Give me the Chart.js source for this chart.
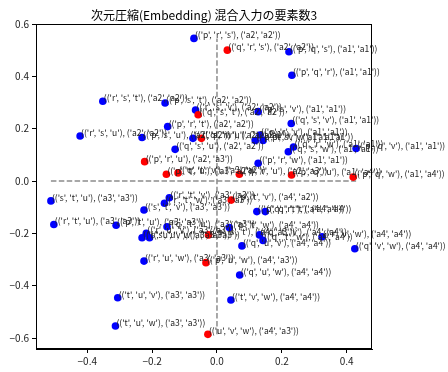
<!DOCTYPE html>
<html>
<head>
<meta charset="utf-8">
<script src="https://cdn.jsdelivr.net/npm/chart.js@4.4.0/dist/chart.umd.min.js"></script>
<style>
html, body { margin: 0; padding: 0; background: #fff; }
</style>
</head>
<body>
<canvas id="embedChart" width="448" height="372"></canvas>
<script>
// data
const blueX = [-0.071, 0.222, 0.231, -0.352, -0.160, -0.066, 0.127, 0.229, -0.152, -0.422,
    -0.231, -0.074, -0.129, 0.118, 0.133, 0.142, 0.236, 0.220, 0.429, 0.127,
    -0.512, -0.147, -0.162, -0.225, -0.503, -0.311, -0.154, 0.038, -0.218, -0.231,
    -0.208, -0.225, 0.123, 0.149, 0.131, 0.142, 0.077, 0.324, 0.425, 0.070,
    -0.306, -0.313, 0.043];
const blueY = [0.545, 0.494, 0.404, 0.305, 0.298, 0.271, 0.265, 0.220, 0.208, 0.172,
    0.166, 0.163, 0.121, 0.155, 0.176, 0.155, 0.130, 0.112, 0.124, 0.068,
    -0.076, -0.064, -0.085, -0.111, -0.166, -0.169, -0.175, -0.178, -0.200, -0.217,
    -0.217, -0.306, -0.117, -0.117, -0.206, -0.227, -0.248, -0.213, -0.259, -0.359,
    -0.446, -0.554, -0.455];
const blueLabels = [
    "(('p', 'r', 's'), ('a2', 'a2'))", "(('p', 'q', 's'), ('a1', 'a1'))", "(('p', 'q', 'r'), ('a1', 'a1'))",
    "(('r', 's', 't'), ('a2', 'a2'))", "(('p', 's', 't'), ('a2', 'a2'))", "(('r', 's', 'v'), ('a2', 'a2'))",
    "(('p', 's', 'v'), ('a1', 'a1'))", "(('q', 's', 'v'), ('a1', 'a1'))", "(('p', 'r', 't'), ('a2', 'a2'))",
    "(('r', 's', 'u'), ('a2', 'a2'))", "(('p', 's', 'u'), ('a2', 'a2'))", "(('r', 's', 'w'), ('a2', 'a2'))",
    "(('q', 's', 'u'), ('a2', 'a2'))", "(('p', 'r', 'v'), ('a1', 'a1'))", "(('q', 'r', 'v'), ('a1', 'a1'))",
    "(('p', 's', 'w'), ('a1', 'a1'))", "(('q', 'r', 'w'), ('a1', 'a1'))", "(('q', 's', 'w'), ('a1', 'a1'))",
    "(('p', 'q', 'v'), ('a1', 'a1'))", "(('p', 'r', 'w'), ('a1', 'a1'))", "(('s', 't', 'u'), ('a3', 'a3'))",
    "(('r', 't', 'v'), ('a3', 'a3'))", "(('r', 't', 'w'), ('a3', 'a3'))", "(('s', 't', 'v'), ('a3', 'a3'))",
    "(('r', 't', 'u'), ('a3', 'a3'))", "(('p', 't', 'u'), ('a3', 'a3'))", "(('q', 't', 'u'), ('a3', 'a3'))",
    "(('p', 't', 'w'), ('a4', 'a4'))", "(('r', 'u', 'v'), ('a3', 'a3'))", "(('s', 'u', 'v'), ('a3', 'a3'))",
    "(('s', 'u', 'w'), ('a3', 'a3'))", "(('r', 'u', 'w'), ('a3', 'a3'))", "(('p', 'q', 't'), ('a4', 'a4'))",
    "(('q', 'r', 't'), ('a4', 'a4'))", "(('q', 't', 'v'), ('a4', 'a4'))", "(('q', 't', 'w'), ('a4', 'a4'))",
    "(('q', 'u', 'v'), ('a4', 'a4'))", "(('r', 'v', 'w'), ('a4', 'a4'))", "(('q', 'v', 'w'), ('a4', 'a4'))",
    "(('q', 'u', 'w'), ('a4', 'a4'))", "(('t', 'u', 'v'), ('a3', 'a3'))", "(('t', 'u', 'w'), ('a3', 'a3'))",
    "(('t', 'v', 'w'), ('a4', 'a4'))"
];
const redX = [0.032, -0.058, -0.048, -0.223, -0.156, -0.120, 0.069, 0.230, 0.420, 0.044,
    -0.026, -0.034, -0.028];
const redY = [0.500, 0.253, 0.163, 0.074, 0.026, 0.031, 0.026, 0.023, 0.015, -0.073,
    -0.206, -0.312, -0.586];
const redLabels = [
    "(('q', 'r', 's'), ('a2', 'a2'))", "(('q', 's', 't'), ('a2', 'a2'))", "(('q', 'r', 'u'), ('a2', 'a1'))",
    "(('p', 'r', 'u'), ('a2', 'a3'))", "(('p', 't', 'u'), ('a3', 'a2'))", "(('q', 't', 'v'), ('a3', 'a2'))",
    "(('q', 'r', 'u'), ('a2', 'a3'))", "(('p', 'q', 'u'), ('a1', 'a4'))", "(('p', 'q', 'w'), ('a1', 'a4'))",
    "(('p', 't', 'v'), ('a4', 'a2'))", "(('p', 's', 't'), ('a4', 'a3'))", "(('p', 'u', 'w'), ('a4', 'a3'))",
    "(('u', 'v', 'w'), ('a4', 'a3'))"
];
const xTicks = [-0.4, -0.2, 0.0, 0.2, 0.4];
const yTicks = [-0.6, -0.4, -0.2, 0.0, 0.2, 0.4, 0.6];
const titleText = '次元圧縮(Embedding) 混合入力の要素数3';

const font = "'Noto Sans CJK JP', 'DejaVu Sans', sans-serif";

function toPoints(xs, ys) {
    return xs.map((x, i) => ({ x: x, y: ys[i] }));
}

//reference lines through the origin, spanning the data range
const allX = blueX.concat(redX);
const allY = blueY.concat(redY);
const hLine = [{ x: Math.min(...allX), y: 0 }, { x: Math.max(...allX), y: 0 }];
const vLine = [{ x: 0, y: Math.min(...allY) }, { x: 0, y: Math.max(...allY) }];

function fmt(v) {
    return v.toFixed(1).replace('-', '\u2212');
}

//text next to each point, full frame and title centred over the plot
const pointText = {
    id: 'pointText',
    afterDatasetsDraw(chart) {
        const ctx = chart.ctx;
        const xs = chart.scales.x, ys = chart.scales.y;
        ctx.save();
        ctx.font = "8.5px " + font;
        ctx.fillStyle = '#222';
        ctx.textAlign = 'left';
        ctx.textBaseline = 'alphabetic';
        chart.data.datasets.forEach(ds => {
            if (!ds.labels) return;
            ds.data.forEach((p, i) => {
                ctx.fillText(ds.labels[i], xs.getPixelForValue(p.x) + 1, ys.getPixelForValue(p.y));
            });
        });
        const a = chart.chartArea;
        ctx.strokeStyle = '#000';
        ctx.lineWidth = 1;
        ctx.strokeRect(a.left + 0.5, a.top + 0.5, a.right - a.left - 1, a.bottom - a.top - 1);

        ctx.font = "12px " + font;
        ctx.fillStyle = '#000';
        ctx.textAlign = 'center';
        ctx.textBaseline = 'middle';
        ctx.fillText(titleText, (a.left + a.right) / 2, 15);
        ctx.restore();
    }
};

const ctx = document.getElementById('embedChart').getContext('2d');
const embedChart = new Chart(ctx, {
    type: 'scatter',
    data: {
        datasets: [
            {
                data: toPoints(blueX, blueY),
                labels: blueLabels,
                backgroundColor: '#0000ff',
                borderWidth: 0,
                pointRadius: 3.8,
                order: 2
            },
            {
                data: toPoints(redX, redY),
                labels: redLabels,
                backgroundColor: '#ff0000',
                borderWidth: 0,
                pointRadius: 3.8,
                order: 1
            },
            {
                data: hLine,
                showLine: true,
                borderColor: '#8c8c8c',
                borderWidth: 1.5,
                borderDash: [5.5, 2.4],
                pointRadius: 0,
                order: 3
            },
            {
                data: vLine,
                showLine: true,
                borderColor: '#8c8c8c',
                borderWidth: 1.5,
                borderDash: [5.5, 2.4],
                pointRadius: 0,
                order: 3
            }
        ]
    },
    options: {
        responsive: false,
        animation: false,
        layout: {
            padding: { left: 0, right: 76, top: 24, bottom: 0 }
        },
        plugins: {
            legend: { display: false },
            tooltip: { enabled: false },
            title: { display: false }
        },
        scales: {
            x: {
                type: 'linear',
                min: -0.558,
                max: 0.478,
                afterBuildTicks: scale => { scale.ticks = xTicks.map(v => ({ value: v })); },
                afterFit: scale => { scale.height = 23; },
                ticks: {
                    color: '#222',
                    font: { family: font, size: 10 },
                    padding: 2,
                    maxRotation: 0,
                    callback: v => fmt(v)
                },
                grid: { drawOnChartArea: false, drawTicks: true, tickLength: 4, color: '#000' },
                border: { display: true, color: '#000' }
            },
            y: {
                type: 'linear',
                min: -0.642,
                max: 0.6,
                afterBuildTicks: scale => { scale.ticks = yTicks.map(v => ({ value: v })); },
                afterFit: scale => { scale.width = 36; },
                ticks: {
                    color: '#222',
                    font: { family: font, size: 10 },
                    padding: 3,
                    callback: v => fmt(v)
                },
                grid: { drawOnChartArea: false, drawTicks: true, tickLength: 4, color: '#000' },
                border: { display: true, color: '#000' }
            }
        }
    },
    plugins: [pointText]
});
</script>
</body>
</html>
